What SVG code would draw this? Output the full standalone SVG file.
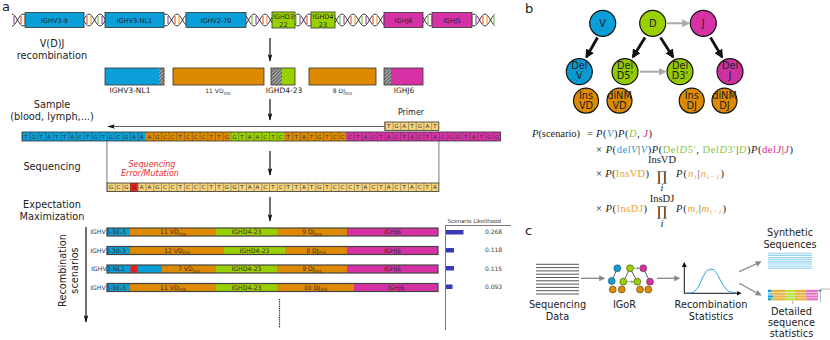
<svg xmlns="http://www.w3.org/2000/svg" width="830" height="340" viewBox="0 0 830 340">
<style>
.lbl{font-family:"DejaVu Sans",sans-serif;font-size:9.75px;fill:#222;text-anchor:middle}
.pl{font-family:"DejaVu Sans",sans-serif;font-size:13px;fill:#222}
.bx{font-family:"DejaVu Sans",sans-serif;font-size:6.5px;fill:#222;text-anchor:middle}
.sm{font-family:"DejaVu Sans",sans-serif;font-size:7.5px;fill:#222;text-anchor:middle}
.tiny{font-family:"DejaVu Sans",sans-serif;font-size:6px;fill:#333;text-anchor:middle}
.bar{font-family:"DejaVu Sans",sans-serif;font-size:6.2px;fill:#3a2a10;text-anchor:middle}
.nt{font-family:"DejaVu Sans",sans-serif;font-size:5.5px;fill:#333;text-anchor:middle}
.blue{fill:#0a9fd8}.green{fill:#9bd000}.mag{fill:#d632a6}.orange{fill:#de8a00}.pale{fill:#f5d27c}.red{fill:#e8201c}
.ol{fill:none;stroke:#333;stroke-width:0.8}
.olb{fill:none;stroke:#444;stroke-width:1.2}
.ar{stroke:#111;stroke-width:1.2;fill:none}
.nd{stroke:#111;stroke-width:1.2}
.math{font-family:"Liberation Serif",serif;font-size:10.5px;fill:#222}
.it{font-style:italic}
.mb{fill:#1b9ad6}.mg{fill:#8cc63f}.mm{fill:#e0249a}.mo{fill:#f0a030}
</style>
<defs>
<pattern id="helix" patternUnits="userSpaceOnUse" x="1" y="10" width="22" height="20">
<line x1="2" y1="6" x2="2" y2="14" stroke="#f39c12" stroke-width="1.1"/>
<line x1="9" y1="6" x2="9" y2="14" stroke="#7cb342" stroke-width="1.1"/>
<line x1="13" y1="6" x2="13" y2="14" stroke="#8e44ad" stroke-width="1.1"/>
<line x1="20" y1="6" x2="20" y2="14" stroke="#e74c3c" stroke-width="1.1"/>
<path d="M0,16 C4,16 7,4 11,4 C15,4 18,16 22,16" fill="none" stroke="#222" stroke-width="0.9"/>
<path d="M0,4 C4,4 7,16 11,16 C15,16 18,4 22,4" fill="none" stroke="#222" stroke-width="0.9"/>
</pattern>
<pattern id="cells" patternUnits="userSpaceOnUse" x="22" y="0" width="7.72" height="10">
<line x1="0.25" y1="0" x2="0.25" y2="10" stroke="#333" stroke-width="0.5"/>
</pattern>
<pattern id="hatchG" patternUnits="userSpaceOnUse" width="2.5" height="2.5" patternTransform="rotate(45)">
<rect width="2.5" height="2.5" fill="#a0a0a0"/>
<line x1="0" y1="0" x2="0" y2="2.5" stroke="#222" stroke-width="1"/>
</pattern>
<pattern id="hatch" patternUnits="userSpaceOnUse" width="3" height="3" patternTransform="rotate(45)">
<line x1="0" y1="0" x2="0" y2="3" stroke="#000" stroke-opacity="0.22" stroke-width="1"/>
</pattern>
<marker id="ah" viewBox="0 0 10 6" refX="9" refY="3" markerWidth="8" markerHeight="4.8" markerUnits="userSpaceOnUse" orient="auto">
<path d="M0,0 L10,3 L0,6 L2.5,3 z" fill="#111"/>
</marker>
<marker id="ahB" viewBox="0 0 10 10" refX="8" refY="5" markerWidth="9" markerHeight="9" markerUnits="userSpaceOnUse" orient="auto">
<path d="M0,0 L10,5 L0,10 z" fill="#111"/>
</marker>
<marker id="ahG" viewBox="0 0 10 10" refX="8" refY="5" markerWidth="8" markerHeight="8" markerUnits="userSpaceOnUse" orient="auto">
<path d="M0,0 L10,5 L0,10 z" fill="#aaa"/>
</marker>
<marker id="ahC" viewBox="0 0 10 10" refX="8" refY="5" markerWidth="6" markerHeight="6" markerUnits="userSpaceOnUse" orient="auto">
<path d="M0,0 L10,5 L0,10 z" fill="#888"/>
</marker>
<marker id="ahS" viewBox="0 0 10 10" refX="8" refY="5" markerWidth="3" markerHeight="3" markerUnits="userSpaceOnUse" orient="auto">
<path d="M0,0 L10,5 L0,10 z" fill="#999"/>
</marker>
<marker id="ahK" viewBox="0 0 10 10" refX="8" refY="5" markerWidth="5" markerHeight="5" markerUnits="userSpaceOnUse" orient="auto">
<path d="M0,0 L10,5 L0,10 z" fill="#111"/>
</marker>
</defs>
<rect width="830" height="340" fill="#fff"/>

<!-- panel labels -->
<text class="pl" x="2" y="11">a</text>
<text class="pl" x="525" y="13">b</text>
<text class="pl" x="525" y="235">c</text>

<!-- DNA row -->
<g id="dna">
<rect x="12" y="10" width="13" height="20" fill="url(#helix)"/>
<rect x="84" y="10" width="21" height="20" fill="url(#helix)"/>
<rect x="164" y="10" width="22" height="20" fill="url(#helix)"/>
<rect x="246" y="10" width="26" height="20" fill="url(#helix)"/>
<rect x="295" y="10" width="16" height="20" fill="url(#helix)"/>
<rect x="335" y="10" width="49" height="20" fill="url(#helix)"/>
<rect x="423" y="10" width="9" height="20" fill="url(#helix)"/>
<rect x="472" y="10" width="23" height="20" fill="url(#helix)"/>
</g>
<g id="ighv3-9"><rect x="25" y="12.5" width="59" height="15" class="blue" stroke="#333" stroke-width="0.8"/><text class="bx" x="54.5" y="22.5">IGHV3-9</text></g>
<g id="ighv3-nl1"><rect x="105" y="12.5" width="59" height="15" class="blue" stroke="#333" stroke-width="0.8"/><text class="bx" x="134.5" y="22.5">IGHV3-NL1</text></g>
<g id="ighv2-70"><rect x="186" y="12.5" width="60" height="15" class="blue" stroke="#333" stroke-width="0.8"/><text class="bx" x="216" y="22.5">IGHV2-70</text></g>
<g id="ighd3-22"><rect x="272" y="12" width="23" height="16" class="green" stroke="#333" stroke-width="0.8"/><text class="bx" x="283.5" y="18.7">IGHD3</text><text class="bx" x="283.5" y="26.6">22</text></g>
<g id="ighd4-23"><rect x="311" y="12" width="24" height="16" class="green" stroke="#333" stroke-width="0.8"/><text class="bx" x="323" y="18.7">IGHD4</text><text class="bx" x="323" y="26.6">23</text></g>
<g id="ighj6"><rect x="384" y="12.5" width="39" height="15" class="mag" stroke="#333" stroke-width="0.8"/><text class="bx" x="403.5" y="22.5">IGHJ6</text></g>
<g id="ighj5"><rect x="432" y="12.5" width="40" height="15" class="mag" stroke="#333" stroke-width="0.8"/><text class="bx" x="452" y="22.5">IGHJ5</text></g>

<!-- side labels -->
<g id="side-labels">
<text class="lbl" x="52" y="47">V(D)J</text>
<text class="lbl" x="52" y="59">recombination</text>
<text class="lbl" x="52" y="108">Sample</text>
<text class="lbl" x="52" y="120">(blood, lymph,...)</text>
<text class="lbl" x="52" y="170">Sequencing</text>
<text class="lbl" x="52" y="208">Expectation</text>
<text class="lbl" x="52" y="220">Maximization</text>
<text class="lbl" transform="translate(65.5,270.5) rotate(-90)">Recombination</text>
<text class="lbl" transform="translate(77.5,270.5) rotate(-90)">scenarios</text>
</g>

<!-- recombined segments -->
<g id="recomb">
<rect x="105" y="68" width="54" height="17" class="blue"/>
<rect x="159" y="68" width="5" height="17" fill="url(#hatchG)"/>
<rect x="105" y="68" width="59" height="17" class="ol"/>
<text class="sm" x="130" y="93">IGHV3-NL1</text>
<rect x="173" y="68" width="91" height="17" class="orange" stroke="#333" stroke-width="0.8"/>
<text class="tiny" x="218" y="93">11 VD<tspan font-size="5px" dy="1.5">ins</tspan></text>
<rect x="271" y="68" width="11" height="17" fill="url(#hatchG)"/>
<rect x="282" y="68" width="13" height="17" class="green"/>
<rect x="271" y="68" width="24" height="17" class="ol"/>
<text class="sm" x="284" y="93">IGHD4-23</text>
<rect x="309" y="68" width="67" height="17" class="orange" stroke="#333" stroke-width="0.8"/>
<text class="tiny" x="342.5" y="93">8 DJ<tspan font-size="5px" dy="1.5">ins</tspan></text>
<rect x="384" y="68" width="7" height="17" fill="url(#hatchG)"/>
<rect x="391" y="68" width="32" height="17" class="mag"/>
<rect x="384" y="68" width="39" height="17" class="ol"/>
<text class="sm" x="404" y="93">IGHJ6</text>
</g>

<!-- primer & sequence -->
<g id="primer">
<text font-family="DejaVu Sans,sans-serif" font-size="8" fill="#222" text-anchor="middle" x="411" y="115">Primer</text>
<rect x="384.8" y="122" width="54.04" height="8.5" class="pale"/>
<rect x="384.8" y="122" width="54.04" height="8.5" fill="url(#cells)"/>
<rect x="384.8" y="122" width="54.04" height="8.5" class="ol"/>
<text class="nt" x="388.7 396.4 404.1 411.9 419.6 427.3 435.0" y="128.4">TGATGAT</text>
</g>
<g id="sequence">
<rect x="22" y="132" width="123.5" height="9" class="blue"/>
<rect x="145.5" y="132" width="84.9" height="9" class="orange"/>
<rect x="230.4" y="132" width="54.1" height="9" class="green"/>
<rect x="284.5" y="132" width="61.7" height="9" class="orange"/>
<rect x="346.2" y="132" width="154.4" height="9" class="mag"/>
<rect x="22" y="132" width="478.6" height="9" fill="url(#cells)"/>
<rect x="22" y="132" width="478.6" height="9" class="ol"/>
<text class="nt" x="25.9 33.6 41.3 49.0 56.7 64.5 72.2 79.9 87.6 95.3 103.1 110.8 118.5 126.2 133.9 141.7 149.4 157.1 164.8 172.5 180.3 188.0 195.7 203.4 211.1 218.9 226.6 234.3 242.0 249.7 257.5 265.2 272.9 280.6 288.3 296.1 303.8 311.5 319.2 326.9 334.7 342.4 350.1 357.8 365.5 373.3 381.0 388.7 396.4 404.1 411.9 419.6 427.3 435.0 442.7 450.5 458.2 465.9 473.6 481.3 489.1 496.8" y="138.6">TGTATTACTGTGCGAAAGCCTCCCTTGGTAACTCTTATGTCCCTACTACTACTACGGTATGG</text>
</g>
<g id="read">
<text font-family="DejaVu Sans,sans-serif" font-size="8" font-style="italic" fill="#ee2a2a" text-anchor="middle" x="152" y="167">Sequencing</text>
<text font-family="DejaVu Sans,sans-serif" font-size="8" font-style="italic" fill="#ee2a2a" text-anchor="middle" x="150" y="176.3">Error/Mutation</text>
<rect x="106.9" y="183" width="332" height="8.5" class="pale"/>
<rect x="130.1" y="183" width="7.72" height="8.5" class="red"/>
<rect x="106.9" y="183" width="332" height="8.5" fill="url(#cells)"/>
<rect x="106.9" y="183" width="332" height="8.5" class="ol"/>
<text class="nt" x="110.8 118.5 126.2 133.9 141.7 149.4 157.1 164.8 172.5 180.3 188.0 195.7 203.4 211.1 218.9 226.6 234.3 242.0 249.7 257.5 265.2 272.9 280.6 288.3 296.1 303.8 311.5 319.2 326.9 334.7 342.4 350.1 357.8 365.5 373.3 381.0 388.7 396.4 404.1 411.9 419.6 427.3 435.0" y="189.4">GCGGAAGCCTCCCTTGGTAACTCTTATGTCCCTACTACTACTA</text>
</g>

<!-- scenarios -->
<g id="scenario1">
<rect x="107" y="228" width="23" height="8" class="blue"/><rect x="130" y="228" width="86" height="8" class="orange"/><rect x="216" y="228" width="61" height="8" class="green"/><rect x="277" y="228" width="70" height="8" class="orange"/><rect x="347" y="228" width="91" height="8" class="mag"/>
<rect x="107" y="228" width="331" height="8" class="olb"/>
<text class="bar" x="108" y="234.3" text-anchor="start"><tspan fill="#123a66">IGHV3-</tspan>30-3</text>
<text class="bar" x="173" y="234.3">11 VD<tspan font-size="5px" dy="1.2">ins</tspan></text>
<text class="bar" x="246.5" y="234.3">IGHD4-23</text>
<text class="bar" x="312" y="234.3">9 DJ<tspan font-size="5px" dy="1.2">ins</tspan></text>
<text class="bar" x="392.5" y="234.3">IGHJ6</text>
</g>
<g id="scenario2">
<rect x="107" y="246.5" width="23" height="8" class="blue"/><rect x="130" y="246.5" width="94" height="8" class="orange"/><rect x="224" y="246.5" width="61" height="8" class="green"/><rect x="285" y="246.5" width="62" height="8" class="orange"/><rect x="347" y="246.5" width="91" height="8" class="mag"/>
<rect x="107" y="246.5" width="331" height="8" class="olb"/>
<text class="bar" x="108" y="252.8" text-anchor="start"><tspan fill="#123a66">IGHV3-</tspan>30-3</text>
<text class="bar" x="177" y="252.8">12 VD<tspan font-size="5px" dy="1.2">ins</tspan></text>
<text class="bar" x="254.5" y="252.8">IGHD4-23</text>
<text class="bar" x="316" y="252.8">8 DJ<tspan font-size="5px" dy="1.2">ins</tspan></text>
<text class="bar" x="392.5" y="252.8">IGHJ6</text>
</g>
<g id="scenario3">
<rect x="107" y="265" width="55" height="8" class="blue"/><rect x="130.5" y="265" width="7" height="8" class="red"/><rect x="162" y="265" width="54" height="8" class="orange"/><rect x="216" y="265" width="61" height="8" class="green"/><rect x="277" y="265" width="70" height="8" class="orange"/><rect x="347" y="265" width="91" height="8" class="mag"/>
<rect x="107" y="265" width="331" height="8" class="olb"/>
<text class="bar" x="108" y="271.3" text-anchor="start"><tspan fill="#123a66">IGHV3-</tspan>NL<tspan fill="#123a66">1</tspan></text>
<text class="bar" x="189" y="271.3">7 VD<tspan font-size="5px" dy="1.2">ins</tspan></text>
<text class="bar" x="246.5" y="271.3">IGHD4-23</text>
<text class="bar" x="312" y="271.3">9 DJ<tspan font-size="5px" dy="1.2">ins</tspan></text>
<text class="bar" x="392.5" y="271.3">IGHJ6</text>
</g>
<g id="scenario4">
<rect x="107" y="283.5" width="23" height="8" class="blue"/><rect x="130" y="283.5" width="86" height="8" class="orange"/><rect x="216" y="283.5" width="61" height="8" class="green"/><rect x="277" y="283.5" width="77" height="8" class="orange"/><rect x="354" y="283.5" width="84" height="8" class="mag"/>
<rect x="107" y="283.5" width="331" height="8" class="olb"/>
<text class="bar" x="108" y="289.8" text-anchor="start"><tspan fill="#123a66">IGHV3-</tspan>30-3</text>
<text class="bar" x="173" y="289.8">11 VD<tspan font-size="5px" dy="1.2">ins</tspan></text>
<text class="bar" x="246.5" y="289.8">IGHD4-23</text>
<text class="bar" x="315.5" y="289.8">10 DJ<tspan font-size="5px" dy="1.2">ins</tspan></text>
<text class="bar" x="396" y="289.8">IGHJ6</text>
</g>

<!-- likelihood chart -->
<g id="likelihood">
<text font-family="DejaVu Sans,sans-serif" font-size="5.5" fill="#333" x="447.5" y="223">Scenario Likelihood</text>
<line x1="445" y1="225.5" x2="511" y2="225.5" stroke="#555" stroke-width="0.8"/>
<line x1="445.5" y1="225.5" x2="445.5" y2="330" stroke="#555" stroke-width="0.8"/>
<rect x="446" y="230" width="17.5" height="4.5" fill="#3a3ab8"/>
<rect x="446" y="248" width="8" height="4.5" fill="#3a3ab8"/>
<rect x="446" y="266" width="8" height="4.5" fill="#3a3ab8"/>
<rect x="446" y="284.5" width="6.5" height="4.5" fill="#3a3ab8"/>
<text font-family="DejaVu Sans,sans-serif" font-size="6" fill="#444" x="485" y="234.2">0.268</text>
<text font-family="DejaVu Sans,sans-serif" font-size="6" fill="#444" x="485" y="252.2">0.118</text>
<text font-family="DejaVu Sans,sans-serif" font-size="6" fill="#444" x="485" y="270.5">0.115</text>
<text font-family="DejaVu Sans,sans-serif" font-size="6" fill="#444" x="485" y="288.7">0.093</text>
</g>

<!-- connectors panel a -->
<g id="connectors-a">
<line class="ar" x1="270" y1="38" x2="270" y2="61" marker-end="url(#ah)"/>
<line class="ar" x1="270" y1="99" x2="270" y2="120" marker-end="url(#ah)"/>
<line x1="384" y1="126.5" x2="108" y2="126.5" stroke="#333" stroke-width="0.8" marker-end="url(#ah)"/>
<line class="ar" x1="270" y1="151" x2="270" y2="175" marker-end="url(#ah)"/>
<line class="ar" x1="270" y1="197" x2="270" y2="221" marker-end="url(#ah)"/>
<line x1="106.9" y1="141" x2="106.9" y2="183" stroke="#555" stroke-width="0.8"/>
<line x1="438.9" y1="141" x2="438.9" y2="183" stroke="#555" stroke-width="0.8"/>
<line class="ar" x1="86" y1="227" x2="86" y2="322" marker-end="url(#ah)"/>
<line x1="279.5" y1="299" x2="279.5" y2="328" stroke="#222" stroke-width="1.2" stroke-dasharray="1,0.8"/>
</g>

<!-- panel b nodes -->
<g id="node-V"><circle cx="602.7" cy="23.3" r="13" class="blue nd"/><text class="lbl" font-size="10" x="602.7" y="27">V</text></g>
<g id="node-D"><circle cx="652.7" cy="23.3" r="13" class="green nd"/><text class="lbl" font-size="10" x="652.7" y="27">D</text></g>
<g id="node-J"><circle cx="703.3" cy="23.3" r="13" class="mag nd"/><text class="lbl" font-size="10" x="703.3" y="27">J</text></g>
<g id="node-DelV"><circle cx="579.3" cy="71.7" r="13" class="blue nd"/><circle cx="579.3" cy="71.7" r="12.4" fill="url(#hatch)"/><text class="lbl" font-size="8" x="579.3" y="69.3">Del</text><text class="lbl" font-size="8" x="579.3" y="78.8">V</text></g>
<g id="node-DelD5"><circle cx="625" cy="71.7" r="13" class="green nd"/><circle cx="625" cy="71.7" r="12.4" fill="url(#hatch)"/><text class="lbl" font-size="8" x="625" y="69.3">Del</text><text class="lbl" font-size="8" x="625" y="78.8">D5'</text></g>
<g id="node-DelD3"><circle cx="680" cy="71.7" r="13" class="green nd"/><circle cx="680" cy="71.7" r="12.4" fill="url(#hatch)"/><text class="lbl" font-size="8" x="680" y="69.3">Del</text><text class="lbl" font-size="8" x="680" y="78.8">D3'</text></g>
<g id="node-DelJ"><circle cx="730" cy="71.7" r="13" class="mag nd"/><circle cx="730" cy="71.7" r="12.4" fill="url(#hatch)"/><text class="lbl" font-size="8" x="730" y="69.3">Del</text><text class="lbl" font-size="8" x="730" y="78.8">J</text></g>
<g id="node-InsVD"><circle cx="586" cy="100.7" r="12.5" class="orange nd"/><text class="lbl" font-size="8.8" x="586" y="99">Ins</text><text class="lbl" font-size="8.8" x="586" y="109.2">VD</text></g>
<g id="node-diNMVD"><circle cx="619.5" cy="100.7" r="12.5" class="orange nd"/><text class="lbl" font-size="6" x="619.5" y="98.8">diNM</text><text class="lbl" font-size="6" x="619.5" y="109.2">VD</text></g>
<g id="node-InsDJ"><circle cx="691.7" cy="100.7" r="12.5" class="orange nd"/><text class="lbl" font-size="8.8" x="691.7" y="99">Ins</text><text class="lbl" font-size="8.8" x="691.7" y="109.2">DJ</text></g>
<g id="node-diNMDJ"><circle cx="724.5" cy="100.7" r="12.5" class="orange nd"/><text class="lbl" font-size="6" x="724.5" y="98.8">diNM</text><text class="lbl" font-size="6" x="724.5" y="109.2">DJ</text></g>

<g id="connectors-b">
<line x1="597.5" y1="37.5" x2="586.5" y2="57" stroke="#111" stroke-width="2.8" marker-end="url(#ahB)"/>
<line x1="645" y1="37.5" x2="633" y2="57" stroke="#111" stroke-width="2.8" marker-end="url(#ahB)"/>
<line x1="660.5" y1="37.5" x2="673" y2="57" stroke="#111" stroke-width="2.8" marker-end="url(#ahB)"/>
<line x1="710.5" y1="37.5" x2="722" y2="57" stroke="#111" stroke-width="2.8" marker-end="url(#ahB)"/>
<line x1="667" y1="23.3" x2="688.5" y2="23.3" stroke="#aaa" stroke-width="2" marker-end="url(#ahG)"/>
<line x1="640" y1="71.7" x2="665" y2="71.7" stroke="#aaa" stroke-width="2" marker-end="url(#ahG)"/>
</g>

<!-- formula -->
<g id="formula">
<text class="math" x="532" y="137" textLength="48" lengthAdjust="spacing"><tspan class="it">P</tspan>(scenario)</text>
<text class="math" x="587" y="137">=</text>
<text class="math" x="596" y="137" textLength="56" lengthAdjust="spacing"><tspan class="it">P</tspan>(<tspan class="it mb">V</tspan>)<tspan class="it">P</tspan>(<tspan class="it mg">D</tspan>, <tspan class="it mm">J</tspan>)</text>
<text class="math" x="596" y="152.5" textLength="197" lengthAdjust="spacing">× <tspan class="it">P</tspan>(<tspan class="mb">del</tspan><tspan class="it mb">V</tspan>|<tspan class="it mb">V</tspan>)<tspan class="it">P</tspan>(<tspan class="mg">Del</tspan><tspan class="it mg">D</tspan><tspan class="mg">5′</tspan>, <tspan class="mg">Del</tspan><tspan class="it mg">D</tspan><tspan class="mg">3′</tspan>|<tspan class="it mg">D</tspan>)<tspan class="it">P</tspan>(<tspan class="mm">del</tspan><tspan class="it mm">J</tspan>|<tspan class="it mm">J</tspan>)</text>
<text class="math" x="596" y="177" textLength="53" lengthAdjust="spacing">× <tspan class="it">P</tspan>(<tspan class="mo">InsVD</tspan>)</text>
<text class="math" font-size="7" text-anchor="middle" x="662" y="162.5">InsVD</text>
<text font-family="DejaVu Serif,serif" font-size="13" fill="#222" text-anchor="middle" x="662" y="180.5">∏</text>
<text class="math it" font-size="6.5" text-anchor="middle" x="662" y="191">i</text>
<text class="math" x="676" y="177" textLength="48" lengthAdjust="spacing"><tspan class="it">P</tspan>(<tspan class="it mo">n</tspan><tspan class="it mo" font-size="7" dy="2">i</tspan><tspan dy="-2">|</tspan><tspan class="it mo">n</tspan><tspan class="it mo" font-size="7" dy="2">i−1</tspan><tspan dy="-2">)</tspan></text>
<text class="math" x="596" y="212" textLength="51" lengthAdjust="spacing">× <tspan class="it">P</tspan>(<tspan class="mo">InsDJ</tspan>)</text>
<text class="math" font-size="7" text-anchor="middle" x="662" y="201.8">InsDJ</text>
<text font-family="DejaVu Serif,serif" font-size="13" fill="#222" text-anchor="middle" x="662" y="216.3">∏</text>
<text class="math it" font-size="6.5" text-anchor="middle" x="662" y="227">i</text>
<text class="math" x="676" y="212" textLength="50" lengthAdjust="spacing"><tspan class="it">P</tspan>(<tspan class="it mo">m</tspan><tspan class="it mo" font-size="7" dy="2">i</tspan><tspan dy="-2">|</tspan><tspan class="it mo">m</tspan><tspan class="it mo" font-size="7" dy="2">i−1</tspan><tspan dy="-2">)</tspan></text>
</g>

<!-- panel c -->
<g id="seq-data">
<g stroke="#555" stroke-width="1">
<line x1="536" y1="264.3" x2="579" y2="264.3"/><line x1="536" y1="267.6" x2="579" y2="267.6"/><line x1="536" y1="270.9" x2="579" y2="270.9"/><line x1="536" y1="274.2" x2="579" y2="274.2"/><line x1="536" y1="277.5" x2="579" y2="277.5"/><line x1="536" y1="280.8" x2="579" y2="280.8"/><line x1="536" y1="284.1" x2="579" y2="284.1"/><line x1="536" y1="287.4" x2="579" y2="287.4"/><line x1="536" y1="290.7" x2="579" y2="290.7"/><line x1="536" y1="294" x2="579" y2="294"/>
</g>
<text class="lbl" x="557.5" y="308">Sequencing</text>
<text class="lbl" x="557.5" y="319.5">Data</text>
</g>
<g id="igor">
<g stroke="#333" stroke-width="0.8">
<line x1="617.3" y1="268.3" x2="611.7" y2="281"/><line x1="630" y1="268.3" x2="623.3" y2="281.7"/><line x1="630" y1="268.3" x2="637.3" y2="281.7"/><line x1="643.3" y1="268.3" x2="650" y2="281.7"/>
</g>
<line x1="633.6" y1="268.3" x2="639.3" y2="268.3" stroke="#999" stroke-width="0.9" marker-end="url(#ahS)"/>
<line x1="627" y1="281.7" x2="633.3" y2="281.7" stroke="#999" stroke-width="0.9" marker-end="url(#ahS)"/>
<g stroke="#333" stroke-width="0.5">
<circle cx="617.3" cy="268.3" r="3.5" class="blue"/><circle cx="630" cy="268.3" r="3.5" class="green"/><circle cx="643.3" cy="268.3" r="3.5" class="mag"/>
<circle cx="611.7" cy="281" r="3.5" class="blue"/><circle cx="623.3" cy="281.7" r="3.5" class="green"/><circle cx="637.3" cy="281.7" r="3.5" class="green"/><circle cx="650" cy="281.7" r="3.5" class="mag"/>
<circle cx="612.7" cy="289.5" r="3.5" class="orange"/><circle cx="621.7" cy="289.5" r="3.5" class="orange"/><circle cx="640" cy="289.5" r="3.5" class="orange"/><circle cx="648.3" cy="289.5" r="3.5" class="orange"/>
</g>
<text class="lbl" x="624.5" y="308">IGoR</text>
</g>
<g id="stats">
<line x1="684.3" y1="293.3" x2="684.3" y2="263" stroke="#111" stroke-width="1" marker-end="url(#ahK)"/>
<line x1="684.3" y1="293.3" x2="740.5" y2="293.3" stroke="#111" stroke-width="1" marker-end="url(#ahK)"/>
<path d="M686,293 L692,292.8 L695,291 L698,287.5 L700,283.5 L702,279 L704,275 L706,271.5 L708,269.5 L709,270.5 L710.5,268.7 L712,270 L713,269 L714.5,270.5 L716,272.5 L718,275.5 L720,279.5 L722,283 L724,286.5 L726,289 L728,290.8 L731,292.2 L736,292.8" fill="none" stroke="#29a8e0" stroke-width="1"/>
<text class="lbl" x="711" y="308">Recombination</text>
<text class="lbl" x="711" y="319.5">Statistics</text>
</g>
<g id="synthetic">
<text class="lbl" x="790" y="236">Synthetic</text>
<text class="lbl" x="790" y="247.5">Sequences</text>
<g stroke="#8dd0ef" stroke-width="1.1">
<line x1="768" y1="253.3" x2="812" y2="253.3"/><line x1="768" y1="255.4" x2="812" y2="255.4"/><line x1="768" y1="257.6" x2="812" y2="257.6"/><line x1="768" y1="259.7" x2="812" y2="259.7"/><line x1="768" y1="261.9" x2="812" y2="261.9"/><line x1="768" y1="264" x2="812" y2="264"/><line x1="768" y1="266.2" x2="812" y2="266.2"/><line x1="768" y1="268.3" x2="812" y2="268.3"/>
</g>
</g>
<g id="detailed">
<g>
<rect x="768" y="289.8" width="3" height="2.2" class="blue"/><rect x="771" y="289.8" width="14" height="2.2" fill="#e8b040"/><rect x="785" y="289.8" width="10" height="2.2" fill="#b8e040"/><rect x="795" y="289.8" width="11" height="2.2" fill="#e8b040"/><rect x="806" y="289.8" width="12" height="2.2" fill="#e870c8"/>
<rect x="768" y="292.6" width="3" height="2.2" fill="#7cc8ec"/><rect x="771" y="292.6" width="14" height="2.2" fill="#e8b040"/><rect x="785" y="292.6" width="10" height="2.2" fill="#b8e040"/><rect x="795" y="292.6" width="11" height="2.2" fill="#e8b040"/><rect x="806" y="292.6" width="12" height="2.2" fill="#e870c8"/>
<rect x="768" y="295.4" width="5" height="2.2" class="blue"/><rect x="773" y="295.4" width="12" height="2.2" fill="#e8b040"/><rect x="785" y="295.4" width="10" height="2.2" fill="#b8e040"/><rect x="795" y="295.4" width="11" height="2.2" fill="#e8b040"/><rect x="806" y="295.4" width="12" height="2.2" fill="#e870c8"/>
<rect x="768" y="298.2" width="3" height="2.2" class="blue"/><rect x="771" y="298.2" width="14" height="2.2" fill="#e8b040"/><rect x="785" y="298.2" width="10" height="2.2" fill="#b8e040"/><rect x="795" y="298.2" width="12" height="2.2" fill="#e8b040"/><rect x="807" y="298.2" width="11" height="2.2" fill="#e870c8"/>
<rect x="818.5" y="289.8" width="3" height="1.6" fill="#6060d0"/>
</g>
<line x1="792.7" y1="300.5" x2="792.7" y2="304" stroke="#888" stroke-width="0.6"/>
<line x1="820.5" y1="289" x2="820.5" y2="302" stroke="#888" stroke-width="0.6"/>
<line x1="820.5" y1="289" x2="830" y2="289" stroke="#888" stroke-width="0.6"/>
<text class="lbl" x="791.5" y="314.5">Detailed</text>
<text class="lbl" x="791.5" y="325.5">sequence</text>
<text class="lbl" x="791.5" y="336.5">statistics</text>
</g>
<g id="connectors-c">
<line x1="581" y1="278.3" x2="604" y2="278.3" stroke="#888" stroke-width="1.3" marker-end="url(#ahC)"/>
<line x1="657" y1="278.3" x2="679" y2="278.3" stroke="#888" stroke-width="1.3" marker-end="url(#ahC)"/>
<line x1="739.3" y1="271.7" x2="760.5" y2="262" stroke="#888" stroke-width="1.3" marker-end="url(#ahC)"/>
<line x1="739.3" y1="283.3" x2="760.5" y2="295" stroke="#888" stroke-width="1.3" marker-end="url(#ahC)"/>
</g>
</svg>
